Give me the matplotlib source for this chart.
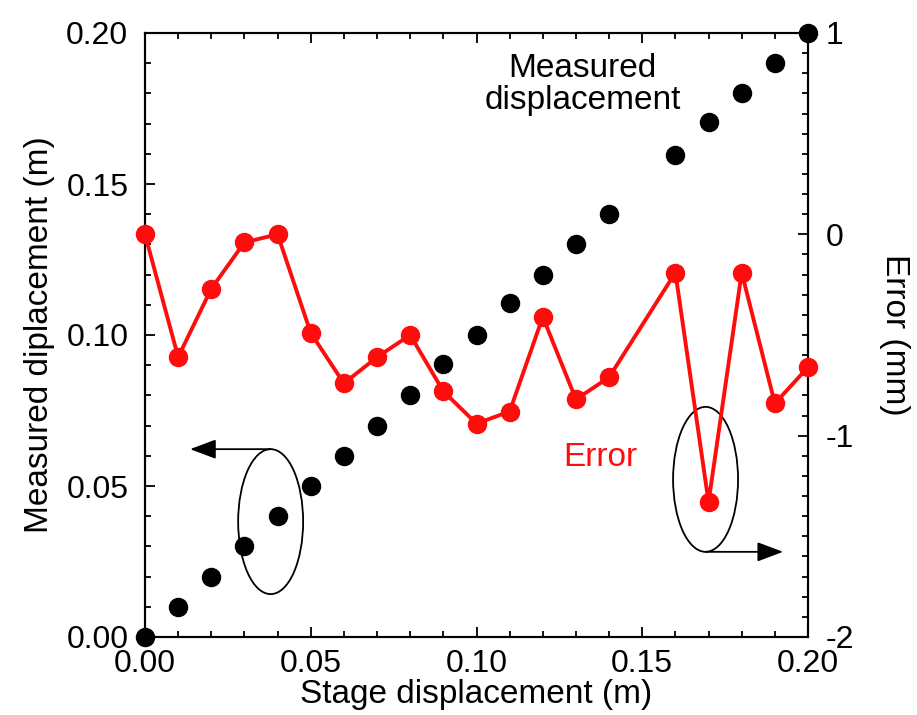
import matplotlib
matplotlib.use("Agg")
import matplotlib.pyplot as plt
from matplotlib.patches import Ellipse
from matplotlib.ticker import MultipleLocator, FormatStrFormatter

plt.rcParams['font.family'] = ['Liberation Sans', 'DejaVu Sans']
plt.rcParams['axes.unicode_minus'] = False

# Data
stage = [0.00, 0.01, 0.02, 0.03, 0.04, 0.05, 0.06, 0.07, 0.08, 0.09, 0.10,
         0.11, 0.12, 0.13, 0.14, 0.16, 0.17, 0.18, 0.19, 0.20]
measured = [0.000, 0.010, 0.020, 0.030, 0.040, 0.050, 0.060, 0.070, 0.080, 0.0905,
            0.100, 0.1105, 0.120, 0.130, 0.140, 0.1597, 0.1705, 0.180, 0.190, 0.200]
error_mm = [0.00, -0.61, -0.27, -0.04, 0.00, -0.49, -0.74, -0.61, -0.50, -0.78,
            -0.94, -0.88, -0.41, -0.82, -0.71, -0.19, -1.33, -0.19, -0.84, -0.66]

x_ticks = [0.00, 0.05, 0.10, 0.15, 0.20]
left_ticks = [0.00, 0.05, 0.10, 0.15, 0.20]
right_ticks = [-2, -1, 0, 1]

fig = plt.figure(figsize=(9.17, 7.15), dpi=100)
ax = fig.add_axes([145/917, 78/715, 663/917, 604/715])
ax2 = ax.twinx()

ax.plot(stage, measured, 'o', color='black', markersize=13, clip_on=False, zorder=3)
ax2.plot(stage, error_mm, '-o', color='#ff0d0d', lw=2.8, markersize=13,
         clip_on=False, zorder=3)

ax.set_xlim(0, 0.20)
ax.set_ylim(0, 0.20)
ax2.set_ylim(-2, 1)

ax.set_xticks(x_ticks)
ax.set_yticks(left_ticks)
ax2.set_yticks(right_ticks)
ax.xaxis.set_minor_locator(MultipleLocator(0.01))
ax.yaxis.set_minor_locator(MultipleLocator(0.01))
ax2.yaxis.set_minor_locator(MultipleLocator(0.1))
ax.xaxis.set_major_formatter(FormatStrFormatter('%.2f'))
ax.yaxis.set_major_formatter(FormatStrFormatter('%.2f'))
ax2.yaxis.set_major_formatter(FormatStrFormatter('%d'))

fs_tick = 23
ax.tick_params(axis='both', which='both', direction='in', top=True, right=False,
               labelsize=fs_tick, width=1.3)
ax.tick_params(axis='both', which='major', length=7)
ax.tick_params(axis='both', which='minor', length=4)
ax.tick_params(axis='y', pad=12)
ax.tick_params(axis='x', pad=9)
ax2.tick_params(axis='y', which='both', direction='in', labelsize=fs_tick, width=1.3, pad=13)
ax2.tick_params(axis='y', which='major', length=7)
ax2.tick_params(axis='y', which='minor', length=4)

for a in (ax, ax2):
    for s in a.spines.values():
        s.set_linewidth(1.5)

fs_lab = 24
ax.set_xlabel('Stage displacement (m)', fontsize=fs_lab, labelpad=0)
ax.set_ylabel('Measured diplacement (m)', fontsize=fs_lab, labelpad=8)
ax2.set_ylabel('Error (mm)', fontsize=fs_lab, rotation=270, labelpad=40)

# Annotations
ax.text(0.132, 0.183, 'Measured\ndisplacement', fontsize=24, ha='center', va='center',
        linespacing=1.05, zorder=5)
ax.text(0.1373, 0.0596, 'Error', fontsize=24, color='#ff0d0d', ha='center', va='center')

ell_w, ell_h = 0.0196, 0.048
left_ell = (0.0379, 0.0382)
right_ell = (0.1691, 0.0522)
ax.add_patch(Ellipse(left_ell, ell_w, ell_h, fill=False, ec='black', lw=1.3, zorder=4))
ax.add_patch(Ellipse(right_ell, ell_w, ell_h, fill=False, ec='black', lw=1.3, zorder=4))
arrow_style = dict(arrowstyle='-|>,head_length=0.8,head_width=0.3', color='black',
                   lw=1.3, mutation_scale=20, shrinkA=0, shrinkB=0)
ax.annotate('', xy=(0.0136, left_ell[1] + ell_h/2), xytext=(left_ell[0], left_ell[1] + ell_h/2),
            arrowprops=arrow_style)
ax.annotate('', xy=(0.1925, right_ell[1] - ell_h/2), xytext=(right_ell[0], right_ell[1] - ell_h/2),
            arrowprops=arrow_style)

fig.savefig('out.png', dpi=100)
